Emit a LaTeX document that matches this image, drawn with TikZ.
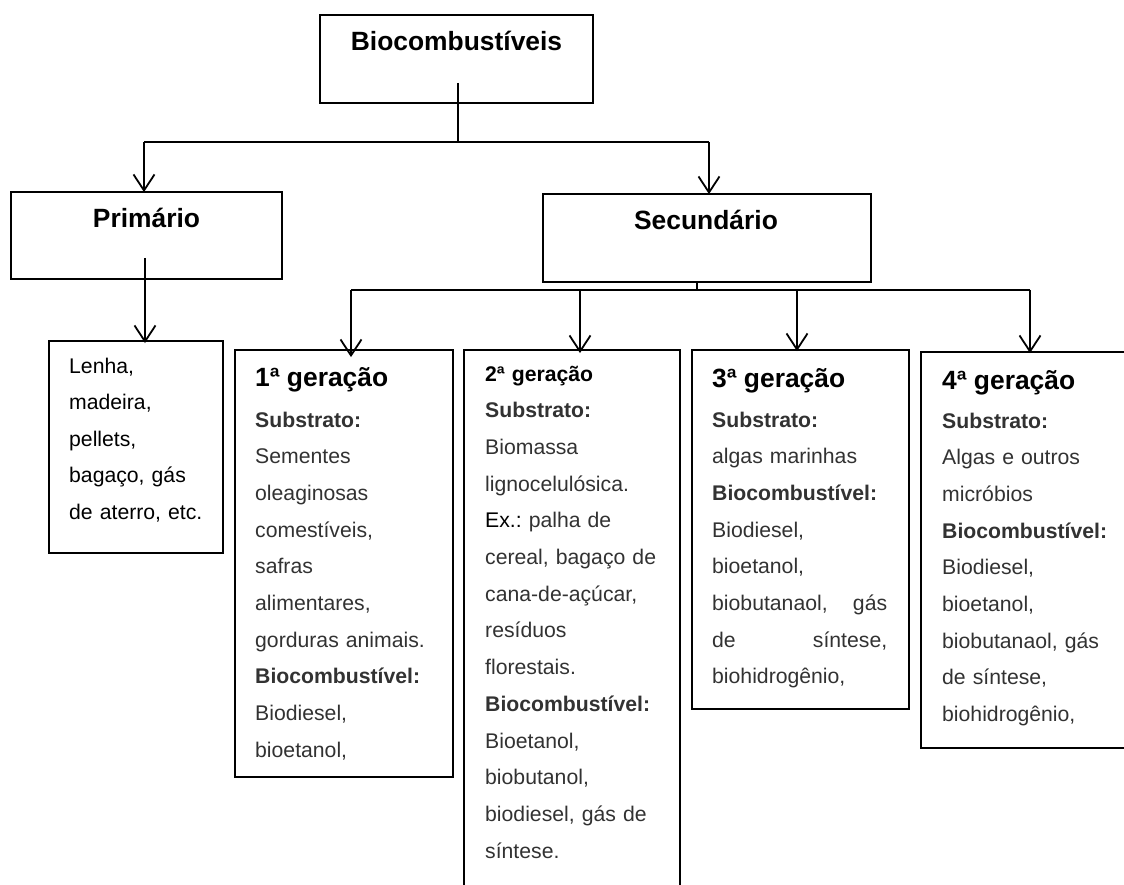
\documentclass[tikz,border=0pt]{standalone}
\usepackage{fontspec}
\setmainfont{Liberation Sans}
\usetikzlibrary{arrows.meta}
\definecolor{txtgray}{RGB}{50,50,50}
\frenchspacing
\begin{document}
\begin{tikzpicture}[x=1pt,y=-1pt,
  box/.style={draw=black, line width=1.8pt, rectangle, inner sep=0pt},
  conn/.style={line width=1.8pt},
  bar/.style={line width=2.6pt},
  arr/.style={line width=1.8pt, -{Straight Barb[length=16pt,width=21pt]}},
  bigtitle/.style={font=\fontsize{26.4}{30}\selectfont\bfseries, inner sep=0pt, anchor=base},
  gentitle/.style={font=\fontsize{26.4}{30}\selectfont\bfseries, inner sep=0pt, anchor=base west},
  body/.style={font=\fontsize{21.2}{36.7}\selectfont, inner sep=0pt, anchor=base west, align=left, text width=#1, text=txtgray},
]
\useasboundingbox (0,0) rectangle (1124,885);
\clip (0,0) rectangle (1124,885);
\fill[white] (0,0) rectangle (1124,885);

% boxes
\node[box, minimum width=273pt, minimum height=88pt] (bio) at (456.5,59) {};
\node[box, minimum width=271pt, minimum height=87pt] (prim) at (146.5,235.5) {};
\node[box, minimum width=328pt, minimum height=88pt] (sec) at (707,238) {};
\node[box, minimum width=174pt, minimum height=212pt] (lenha) at (136,447) {};
\node[box, minimum width=218pt, minimum height=427pt] (g1) at (344,563.5) {};
\node[box, minimum width=216pt, minimum height=555pt] (g2) at (572,627.5) {};
\node[box, minimum width=217pt, minimum height=359pt] (g3) at (800.5,529.5) {};
\node[box, minimum width=219pt, minimum height=396pt] (g4) at (1030.5,550) {};

% titles
\node[bigtitle] (tbio) at (456.5,51) {Biocombustíveis};
\node[bigtitle] (tprim) at (146.5,228) {Primário};
\node[bigtitle] (tsec) at (706,230) {Secundário};

% primary content
\node[body=160pt, text=black, font=\fontsize{21.2}{36.5}\selectfont] (tlenha) at (69,373)
  {Lenha,\\madeira,\\pellets,\\bagaço, gás\\de aterro, etc.};

% 1st generation
\node[gentitle] (t1) at (255,386) {1ª geração};
\node[body=195pt] (b1) at (255,427)
  {\textbf{Substrato:}\\Sementes\\oleaginosas\\comestíveis,\\safras\\alimentares,\\gorduras animais.\\\textbf{Biocombustível:}\\Biodiesel,\\bioetanol,};

% 2nd generation
\node[body=195pt] (b2) at (485,381)
  {\textcolor{black}{\textbf{2ª geração}}\\\textbf{Substrato:}\\Biomassa\\lignocelulósica.\\\textcolor{black}{Ex.:} palha de\\cereal, bagaço de\\cana-de-açúcar,\\resíduos\\florestais.\\\textbf{Biocombustível:}\\Bioetanol,\\biobutanol,\\biodiesel, gás de\\síntese.};

% 3rd generation
\node[gentitle] (t3) at (712,387) {3ª geração};
\node[body=190pt] (b3) at (712,427)
  {\textbf{Substrato:}\\algas marinhas\\\textbf{Biocombustível:}\\Biodiesel,\\bioetanol,\\\makebox[175pt][l]{biobutanaol,\hfill gás}\\\makebox[175pt][l]{de\hfill síntese,}\\biohidrogênio,};

% 4th generation
\node[gentitle] (t4) at (942,389) {4ª geração};
\node[body=180pt] (b4) at (942,428)
  {\textbf{Substrato:}\\Algas e outros\\micróbios\\\textbf{Biocombustível:}\\Biodiesel,\\bioetanol,\\biobutanaol, gás\\de síntese,\\biohidrogênio,};

% connectors level 1
\coordinate (bioStem) at (458,83);
\coordinate (j1) at (458,142);
\coordinate (hL) at (144,142);
\coordinate (hR) at (709,142);
\draw[conn] (bioStem) -- (j1);
\draw[bar] (hL) -- (hR);
\draw[arr] (hL) -- ([yshift=-1pt]hL |- prim.north);
\draw[arr] (hR) -- ([yshift=-1pt]hR |- sec.north);

% primary to content
\coordinate (primStem) at (145,258);
\draw[arr] (primStem) -- ([yshift=-3pt]primStem |- lenha.north);

% secondary to generations
\coordinate (j2) at (697,290);
\coordinate (gL) at (351,290);
\coordinate (gR) at (1030,290);
\coordinate (g2x) at (580,290);
\coordinate (g3x) at (797,290);
\draw[conn] (j2 |- sec.south) -- (j2);
\draw[bar] (gL) -- (gR);
\draw[arr] (gL) -- ([yshift=-8pt]gL |- g1.north);
\draw[arr] (g2x) -- ([yshift=-4pt]g2x |- g2.north);
\draw[arr] (g3x) -- ([yshift=-2pt]g3x |- g3.north);
\draw[arr] (gR) -- ([yshift=-2pt]gR |- g4.north);
\end{tikzpicture}
\end{document}
